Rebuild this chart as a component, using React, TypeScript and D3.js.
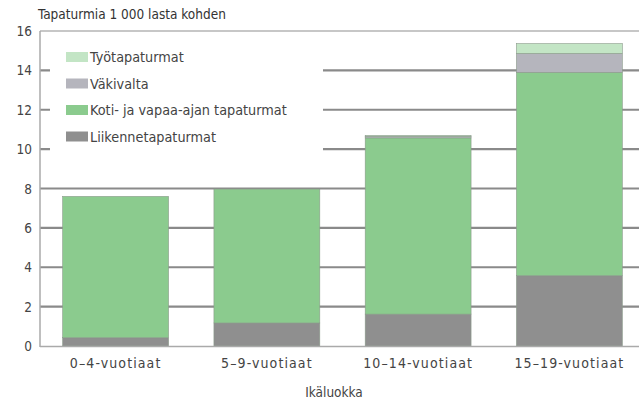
import React from "react";
import * as d3 from "d3";

const categories = ["0–4-vuotiaat", "5–9-vuotiaat", "10–14-vuotiaat", "15–19-vuotiaat"];
const liikenne = [0.42, 1.17, 1.62, 3.57];
const koti = [7.18, 6.8, 8.95, 10.33];
const vakivalta = [0, 0, 0.08, 0.96];
const tyo = [0, 0, 0.05, 0.5];
const seriesNames = ["Liikennetapaturmat", "Koti- ja vapaa-ajan tapaturmat", "Väkivalta", "Työtapaturmat"];
const seriesColors = ["#8f8f8f", "#8bcb8e", "#b5b5bd", "#c3e5c5"];
const yTicks = [0, 2, 4, 6, 8, 10, 12, 14, 16];

const W = 639, H = 405;
const font = "'DejaVu Sans Condensed', 'Liberation Sans Narrow', sans-serif";

export default function App() {
  const x = d3.scaleBand().domain(categories).range([40, 645]).paddingInner(0.3).paddingOuter(0.15);
  const y = d3.scaleLinear().domain([0, 16]).range([346, 31]);
  const rows = categories.map((c, i) => ({ cat: c, s0: liikenne[i], s1: koti[i], s2: vakivalta[i], s3: tyo[i] }));
  const stack = d3.stack<any>().keys(["s0", "s1", "s2", "s3"])(rows);
  const legendOrder = [3, 2, 1, 0];
  return (
    <svg width={W} height={H} style={{ position: "absolute", left: 0, top: 0, background: "#fff" }} fontFamily={font}>
      <rect width={W} height={H} fill="#fff" />
      <text x={38} y={19} fontSize={13.5} fill="#333">Tapaturmia 1 000 lasta kohden</text>
      {yTicks.map((t) => (
        <g key={t}>
          {t > 0 && (
            <line x1={40} x2={W} y1={y(t)} y2={y(t)} stroke={t === 16 ? "#b5b5b5" : "#8a8a8a"} strokeWidth={t === 16 ? 1.5 : 2.2} />
          )}
          <text x={32} y={y(t) + 5} fontSize={13.5} textAnchor="end" fill="#444">{t}</text>
        </g>
      ))}
      <rect x={50} y={34} width={273} height={119} fill="#fff" />
      <line x1={40} x2={40} y1={31} y2={347} stroke="#aaa" strokeWidth={1.5} />
      {stack.map((layer, li) =>
        layer.map((d, i) => {
          const h = y(d[0]) - y(d[1]);
          if (h <= 0) return null;
          return (
            <rect key={li + "-" + i} x={x(categories[i])} y={y(d[1])} width={x.bandwidth()} height={h}
              fill={seriesColors[li]} stroke="#8a9a8a" strokeWidth={0.6} />
          );
        })
      )}
      <line x1={40} x2={W} y1={346.5} y2={346.5} stroke="#aaa" strokeWidth={1.5} />
      {categories.map((c) => (
        <text key={c} x={(x(c) as number) + x.bandwidth() / 2} y={368} fontSize={14} letterSpacing={1.1} textAnchor="middle" fill="#444">{c}</text>
      ))}
      <text x={334} y={397} fontSize={13.5} textAnchor="middle" fill="#444">Ikäluokka</text>
      {legendOrder.map((si, k) => (
        <g key={si} transform={`translate(66, ${57 + k * 26.5})`}>
          <rect x={0} y={-5} width={22} height={10} fill={seriesColors[si]} />
          <text x={24} y={5} fontSize={14.3} fill="#444">{seriesNames[si]}</text>
        </g>
      ))}
    </svg>
  );
}
